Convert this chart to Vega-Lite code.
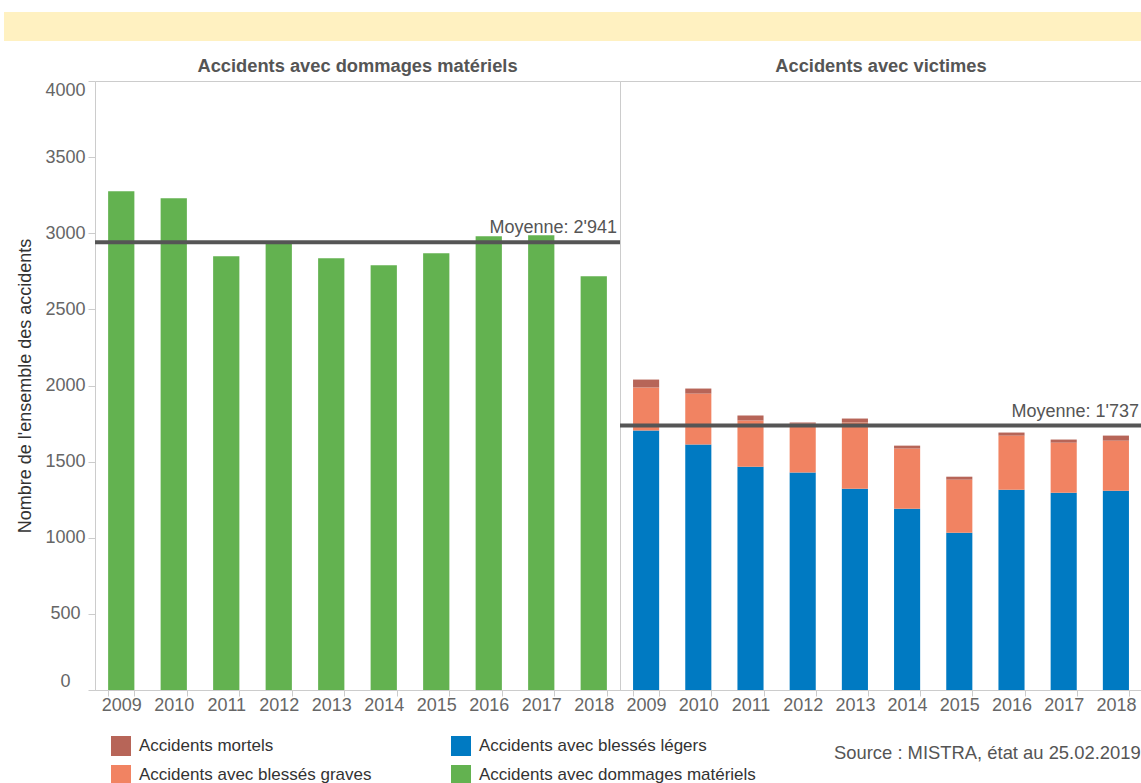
{
  "$schema": "https://vega.github.io/schema/vega-lite/v6.json",
  "padding": {"left": 4, "top": 12, "right": 0, "bottom": 0},
  "background": "white",
  "config": {
    "font": "Liberation Sans",
    "view": {"stroke": "#cccccc"},
    "axis": {
      "labelFont": "Liberation Sans",
      "labelFontSize": 18,
      "labelColor": "#666666",
      "domainColor": "#cccccc",
      "tickColor": "#cccccc",
      "tickSize": 7,
      "grid": false,
      "titleFont": "Liberation Sans",
      "titleFontWeight": "normal",
      "titleFontSize": 18,
      "titleColor": "#333333"
    },
    "legend": {
      "orient": "none",
      "legendX": 107,
      "legendY": 724,
      "columns": 2,
      "direction": "horizontal",
      "symbolType": "square",
      "symbolSize": 400,
      "symbolStrokeWidth": 0,
      "labelFont": "Liberation Sans",
      "labelFontSize": 17,
      "labelColor": "#333333",
      "labelOffset": 8,
      "labelLimit": 400,
      "columnPadding": 79,
      "rowPadding": 9,
      "padding": 0
    },
    "title": {"font": "Liberation Sans"}
  },
  "spacing": 15,
  "resolve": {"scale": {"color": "shared"}, "legend": {"color": "shared"}},
  "vconcat": [
    {
      "width": 1137,
      "height": 29,
      "view": {"fill": "#FFF1C1", "stroke": null},
      "data": {"values": [{"t": ""}]},
      "mark": {"type": "text"},
      "encoding": {"text": {"field": "t", "type": "nominal"}}
    },
    {
      "spacing": 0,
      "bounds": "flush",
      "title": {
        "text": "Source : MISTRA, état au 25.02.2019",
        "orient": "bottom",
        "anchor": "start",
        "dx": 830,
        "frame": "group",
        "fontSize": 18.4,
        "fontWeight": "normal",
        "color": "#555555",
        "offset": 29
      },
      "resolve": {"scale": {"color": "shared"}, "legend": {"color": "shared"}},
      "hconcat": [
        {
          "width": 91,
          "height": 609,
          "view": {"stroke": null},
          "data": {"values": [{"n": 0}, {"n": 4000}]},
          "mark": {"type": "point", "opacity": 0},
          "encoding": {
            "y": {
              "field": "n", "type": "quantitative",
              "scale": {"domain": [0, 4000]},
              "axis": {
                "title": "Nombre de l'ensemble des accidents",
                "titlePadding": 10,
                "offset": -91,
                "format": "d",
                "values": [0, 500, 1000, 1500, 2000, 2500, 3000, 3500, 4000],
                "labelFlush": true,
                "labelAlign": "center",
                "labelPadding": 23
              }
            }
          }
        },
        {
          "width": 525,
          "height": 609,
          "title": {
            "text": "Accidents avec dommages matériels",
            "fontSize": 18.3,
            "fontWeight": "bold",
            "color": "#555555",
            "offset": 5
          },
          "data": {"values": [
            {"annee": "2009", "type": "Accidents avec dommages matériels", "n": 3276, "rang": 1},
            {"annee": "2010", "type": "Accidents avec dommages matériels", "n": 3230, "rang": 1},
            {"annee": "2011", "type": "Accidents avec dommages matériels", "n": 2849, "rang": 1},
            {"annee": "2012", "type": "Accidents avec dommages matériels", "n": 2935, "rang": 1},
            {"annee": "2013", "type": "Accidents avec dommages matériels", "n": 2836, "rang": 1},
            {"annee": "2014", "type": "Accidents avec dommages matériels", "n": 2789, "rang": 1},
            {"annee": "2015", "type": "Accidents avec dommages matériels", "n": 2868, "rang": 1},
            {"annee": "2016", "type": "Accidents avec dommages matériels", "n": 2980, "rang": 1},
            {"annee": "2017", "type": "Accidents avec dommages matériels", "n": 2987, "rang": 1},
            {"annee": "2018", "type": "Accidents avec dommages matériels", "n": 2717, "rang": 1}
          ]},
          "layer": [
            {
              "mark": {"type": "bar"},
              "encoding": {
                "x": {
                  "field": "annee", "type": "ordinal",
                  "scale": {"paddingInner": 0.5, "paddingOuter": 0.25},
                  "axis": {"title": null, "labelAngle": 0, "tickBand": "extent", "tickSize": 6, "labelPadding": 0}
                },
                "y": {
                  "field": "n", "type": "quantitative", "stack": "zero",
                  "scale": {"domain": [0, 4000]},
                  "axis": null
                },
                "color": {
                  "field": "type", "type": "nominal",
                  "scale": {
                    "domain": ["Accidents mortels", "Accidents avec blessés légers", "Accidents avec blessés graves", "Accidents avec dommages matériels"],
                    "range": ["#B76558", "#007AC2", "#F18362", "#63B250"]
                  },
                  "legend": {"title": null}
                },
                "order": {"field": "rang", "type": "quantitative"}
              }
            },
            {
              "data": {"values": [{"moy": 2941, "label": "Moyenne: 2'941"}]},
              "mark": {"type": "rule", "color": "#555555", "strokeWidth": 4},
              "encoding": {"y": {"field": "moy", "type": "quantitative"}}
            },
            {
              "data": {"values": [{"moy": 2941, "label": "Moyenne: 2'941"}]},
              "mark": {"type": "text", "align": "right", "baseline": "bottom", "dx": -3, "dy": -5, "fontSize": 18, "color": "#555555"},
              "encoding": {
                "x": {"value": "width"},
                "y": {"field": "moy", "type": "quantitative"},
                "text": {"field": "label", "type": "nominal"}
              }
            }
          ]
        },
        {
          "width": 522,
          "height": 609,
          "title": {
            "text": "Accidents avec victimes",
            "fontSize": 18.3,
            "fontWeight": "bold",
            "color": "#555555",
            "offset": 5
          },
          "data": {"values": [
            {"annee": "2009", "type": "Accidents avec blessés légers", "n": 1704, "rang": 1},
            {"annee": "2009", "type": "Accidents avec blessés graves", "n": 283, "rang": 2},
            {"annee": "2009", "type": "Accidents mortels", "n": 52, "rang": 3},
            {"annee": "2010", "type": "Accidents avec blessés légers", "n": 1612, "rang": 1},
            {"annee": "2010", "type": "Accidents avec blessés graves", "n": 335, "rang": 2},
            {"annee": "2010", "type": "Accidents mortels", "n": 33, "rang": 3},
            {"annee": "2011", "type": "Accidents avec blessés légers", "n": 1467, "rang": 1},
            {"annee": "2011", "type": "Accidents avec blessés graves", "n": 303, "rang": 2},
            {"annee": "2011", "type": "Accidents mortels", "n": 33, "rang": 3},
            {"annee": "2012", "type": "Accidents avec blessés légers", "n": 1428, "rang": 1},
            {"annee": "2012", "type": "Accidents avec blessés graves", "n": 322, "rang": 2},
            {"annee": "2012", "type": "Accidents mortels", "n": 7, "rang": 3},
            {"annee": "2013", "type": "Accidents avec blessés légers", "n": 1322, "rang": 1},
            {"annee": "2013", "type": "Accidents avec blessés graves", "n": 435, "rang": 2},
            {"annee": "2013", "type": "Accidents mortels", "n": 26, "rang": 3},
            {"annee": "2014", "type": "Accidents avec blessés légers", "n": 1191, "rang": 1},
            {"annee": "2014", "type": "Accidents avec blessés graves", "n": 395, "rang": 2},
            {"annee": "2014", "type": "Accidents mortels", "n": 19, "rang": 3},
            {"annee": "2015", "type": "Accidents avec blessés légers", "n": 1033, "rang": 1},
            {"annee": "2015", "type": "Accidents avec blessés graves", "n": 349, "rang": 2},
            {"annee": "2015", "type": "Accidents mortels", "n": 19, "rang": 3},
            {"annee": "2016", "type": "Accidents avec blessés légers", "n": 1316, "rang": 1},
            {"annee": "2016", "type": "Accidents avec blessés graves", "n": 355, "rang": 2},
            {"annee": "2016", "type": "Accidents mortels", "n": 20, "rang": 3},
            {"annee": "2017", "type": "Accidents avec blessés légers", "n": 1296, "rang": 1},
            {"annee": "2017", "type": "Accidents avec blessés graves", "n": 329, "rang": 2},
            {"annee": "2017", "type": "Accidents mortels", "n": 20, "rang": 3},
            {"annee": "2018", "type": "Accidents avec blessés légers", "n": 1309, "rang": 1},
            {"annee": "2018", "type": "Accidents avec blessés graves", "n": 329, "rang": 2},
            {"annee": "2018", "type": "Accidents mortels", "n": 33, "rang": 3}
          ]},
          "layer": [
            {
              "mark": {"type": "bar"},
              "encoding": {
                "x": {
                  "field": "annee", "type": "ordinal",
                  "scale": {"paddingInner": 0.5, "paddingOuter": 0.25},
                  "axis": {"title": null, "labelAngle": 0, "tickBand": "extent", "tickSize": 6, "labelPadding": 0}
                },
                "y": {
                  "field": "n", "type": "quantitative", "stack": "zero",
                  "scale": {"domain": [0, 4000]},
                  "axis": null
                },
                "color": {
                  "field": "type", "type": "nominal",
                  "legend": {"title": null}
                },
                "order": {"field": "rang", "type": "quantitative"}
              }
            },
            {
              "data": {"values": [{"moy": 1737, "label": "Moyenne: 1'737"}]},
              "mark": {"type": "rule", "color": "#555555", "strokeWidth": 4},
              "encoding": {"y": {"field": "moy", "type": "quantitative"}}
            },
            {
              "data": {"values": [{"moy": 1737, "label": "Moyenne: 1'737"}]},
              "mark": {"type": "text", "align": "right", "baseline": "bottom", "dx": -3, "dy": -5, "fontSize": 18, "color": "#555555"},
              "encoding": {
                "x": {"value": "width"},
                "y": {"field": "moy", "type": "quantitative"},
                "text": {"field": "label", "type": "nominal"}
              }
            }
          ]
        }
      ]
    }
  ]
}
